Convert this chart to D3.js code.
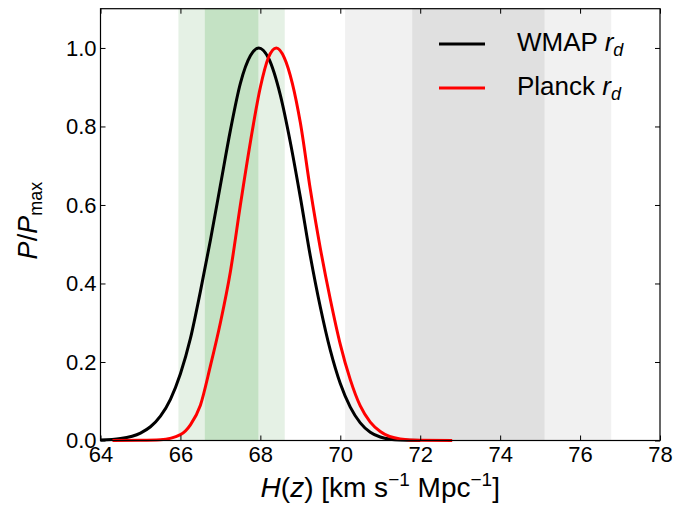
<!DOCTYPE html>
<html><head><meta charset="utf-8">
<script src="https://cdn.jsdelivr.net/npm/d3@7"></script>
<style>body{margin:0;background:#fff} svg text{font-family:"Liberation Sans",Arial,sans-serif;fill:#000}</style>
</head><body><svg id="c" width="673" height="507"></svg>
<script>
// ---- data ----
const wmapH = [64.0,64.5,65.0,65.25,65.5,65.75,66.0,66.25,66.5,66.75,67.0,67.25,67.5,67.75,67.96,68.2,68.5,68.75,69.0,69.25,69.5,69.75,70.0,70.25,70.5,70.75,71.0,71.5,72.0];
const wmapP = [0.001,0.005,0.019,0.035,0.062,0.105,0.17,0.26,0.38,0.51,0.65,0.79,0.91,0.98,1.0,0.975,0.88,0.76,0.62,0.47,0.34,0.23,0.145,0.085,0.045,0.021,0.009,0.001,0.0];
const planckH = [64.3,65.0,65.5,66.0,66.25,66.5,66.75,67.0,67.25,67.5,67.75,68.0,68.2,68.4,68.6,68.8,69.0,69.25,69.5,69.75,70.0,70.25,70.5,70.75,71.0,71.5,72.0,72.8];
const planckP = [0.0,0.0005,0.002,0.015,0.04,0.09,0.19,0.30,0.43,0.60,0.76,0.90,0.975,1.0,0.975,0.91,0.81,0.64,0.49,0.36,0.245,0.155,0.088,0.047,0.023,0.004,0.0005,0.0];
const greenBand1 = [66.61, 67.95];
const greenBand2 = [65.95, 68.61];
const greyBand1 = [71.80, 75.11];
const greyBand2 = [70.12, 76.78];
const xTicks = [64,66,68,70,72,74,76,78];
const yTicks = [0.0,0.2,0.4,0.6,0.8,1.0];
const seriesNames = ["WMAP", "Planck"];

// ---- drawing ----
const svg = d3.select("#c");
const L = 100.5, R = 660, T = 8.7, B = 440.5;
const x = d3.scaleLinear().domain([64,78]).range([L,R]);
const y = d3.scaleLinear().domain([0,1.1]).range([B,T]);

function band(r, col){
  svg.append("rect").attr("x", x(r[0])).attr("y", T)
    .attr("width", x(r[1]) - x(r[0])).attr("height", B - T).attr("fill", col);
}
band(greenBand2, "#e5f1e5");
band(greenBand1, "#c4e2c4");
band(greyBand2, "#f1f1f1");
band(greyBand1, "#e0e0e0");

const line = d3.line().x(d => x(d[0])).y(d => y(d[1])).curve(d3.curveMonotoneX);
svg.append("path").datum(wmapH.map((h,i)=>[h,wmapP[i]]))
  .attr("d", line).attr("fill","none").attr("stroke","#000").attr("stroke-width",3);
svg.append("path").datum(planckH.map((h,i)=>[h,planckP[i]]))
  .attr("d", line).attr("fill","none").attr("stroke","#f00").attr("stroke-width",3);

// axes
const fs = 22;
const gB = svg.append("g").attr("transform",`translate(0,${B})`)
  .call(d3.axisBottom(x).tickValues(xTicks).tickSize(-5).tickSizeOuter(0).tickPadding(6).tickFormat(d3.format("d")));
const gT = svg.append("g").attr("transform",`translate(0,${T})`)
  .call(d3.axisTop(x).tickValues(xTicks).tickSize(-5).tickSizeOuter(0).tickFormat(""));
const gL = svg.append("g").attr("transform",`translate(${L},0)`)
  .call(d3.axisLeft(y).tickValues(yTicks).tickSize(-5).tickSizeOuter(0).tickPadding(4).tickFormat(d3.format(".1f")));
const gR = svg.append("g").attr("transform",`translate(${R},0)`)
  .call(d3.axisRight(y).tickValues(yTicks).tickSize(-5).tickSizeOuter(0).tickFormat(""));
[gB,gT,gL,gR].forEach(g=>{
  g.selectAll(".domain").remove();
  g.selectAll("line").attr("stroke","#000").attr("stroke-width",1);
  g.selectAll("text").attr("font-size",fs).attr("font-family",null);
});
svg.append("rect").attr("x",L).attr("y",T).attr("width",R-L).attr("height",B-T)
  .attr("fill","none").attr("stroke","#000").attr("stroke-width",1.2);

// x label
const xl = svg.append("text").attr("x",(L+R)/2).attr("y",497).attr("text-anchor","middle").attr("font-size",28);
xl.append("tspan").attr("font-style","italic").text("H");
xl.append("tspan").text("(");
xl.append("tspan").attr("font-style","italic").text("z");
xl.append("tspan").text(")  [km s");
xl.append("tspan").attr("font-size",19).attr("dy",-11).text("−1");
xl.append("tspan").attr("dy",11).text(" Mpc");
xl.append("tspan").attr("font-size",19).attr("dy",-11).text("−1");
xl.append("tspan").attr("dy",11).text("]");

// y label
const yl = svg.append("text").attr("transform",`translate(37,${(T+B)/2 - 4}) rotate(-90)`)
  .attr("text-anchor","middle").attr("font-size",27);
yl.append("tspan").attr("font-style","italic").text("P");
yl.append("tspan").text("/");
yl.append("tspan").attr("font-style","italic").text("P");
yl.append("tspan").attr("font-size",18).attr("dy",5).text("max");

// legend
const leg = [{name:seriesNames[0], col:"#000", yy:44},{name:seriesNames[1], col:"#f00", yy:88}];
leg.forEach(d=>{
  svg.append("line").attr("x1",439).attr("x2",485).attr("y1",d.yy).attr("y2",d.yy)
    .attr("stroke",d.col).attr("stroke-width",3);
  const t = svg.append("text").attr("x",517).attr("y",d.yy+7).attr("font-size",26);
  t.append("tspan").text(d.name + " ");
  t.append("tspan").attr("font-style","italic").text("r");
  t.append("tspan").attr("font-style","italic").attr("font-size",18).attr("dy",5).text("d");
});
</script></body></html>
